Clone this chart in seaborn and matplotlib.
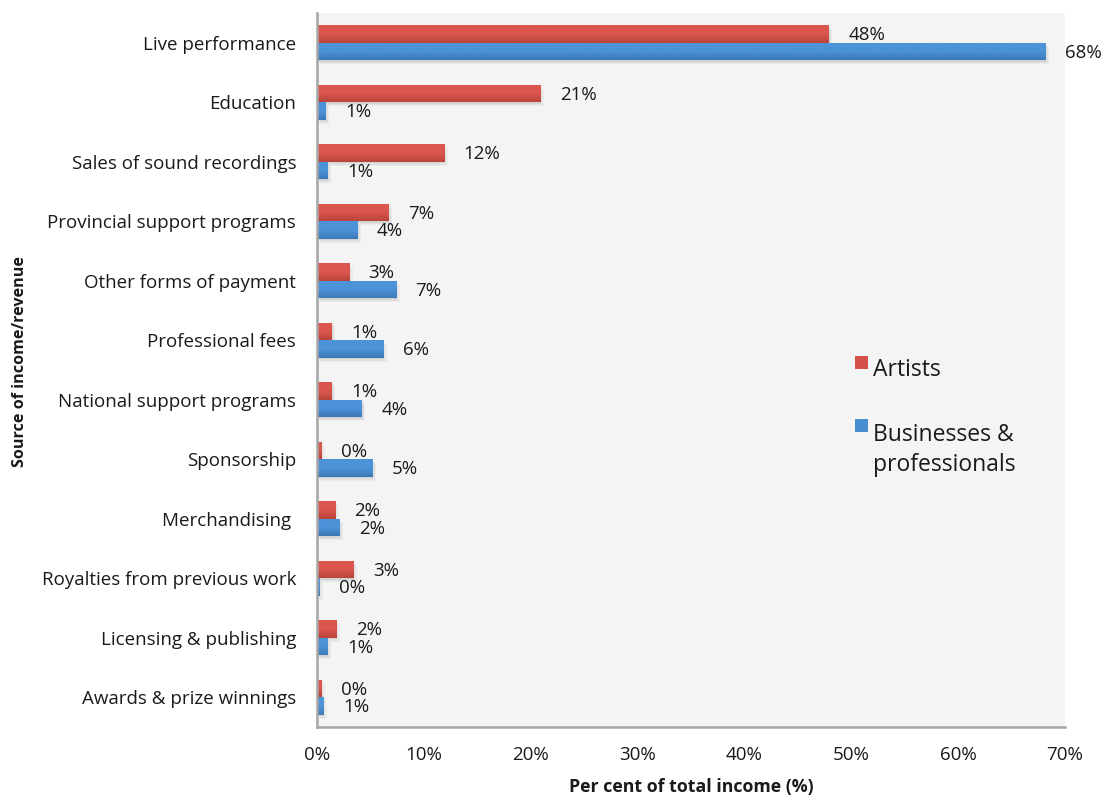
import matplotlib
matplotlib.use("Agg")
import matplotlib.pyplot as plt
import matplotlib.patheffects as pe
from matplotlib.colors import LinearSegmentedColormap
from matplotlib.patches import Rectangle
from matplotlib.ticker import FixedLocator, PercentFormatter
import numpy as np
import pandas as pd
import seaborn as sns

# Share of total income by source (%)
categories = [
    "Live performance",
    "Education",
    "Sales of sound recordings",
    "Provincial support programs",
    "Other forms of payment",
    "Professional fees",
    "National support programs",
    "Sponsorship",
    "Merchandising ",
    "Royalties from previous work",
    "Licensing & publishing",
    "Awards & prize winnings",
]
artists = [47.9, 20.9, 11.9, 6.7, 3.0, 1.4, 1.4, 0.4, 1.7, 3.4, 1.8, 0.4]
businesses = [68.2, 0.8, 1.0, 3.8, 7.4, 6.2, 4.2, 5.2, 2.1, 0.2, 1.0, 0.6]
series_names = ["Artists", "Businesses & professionals"]
legend_labels = ["Artists", "Businesses &\nprofessionals"]
x_ticks = [0, 10, 20, 30, 40, 50, 60, 70]

RED = "#D4504A"
BLUE = "#4A8ED2"
GRADIENTS = {
    RED: ("#DB574E", "#B9433B"),
    BLUE: ("#4C93D8", "#3D78B6"),
}
AXIS_GREY = "#A6A6A6"
TEXT = "#1A1A1A"

df = pd.DataFrame({
    "Source": categories * 2,
    "Series": [series_names[0]] * len(categories) + [series_names[1]] * len(categories),
    "Percent": artists + businesses,
})

sns.set_style("white")
plt.rcParams["font.family"] = ["Open Sans", "DejaVu Sans"]

fig = plt.figure(figsize=(11.04, 7.98), dpi=100)
ax = fig.add_axes([317 / 1104, 1 - 727 / 798, (1065 - 317) / 1104, (727 - 13) / 798])
ax.set_facecolor("#F4F4F4")

sns.barplot(
    data=df, y="Source", x="Percent", hue="Series", order=categories,
    hue_order=series_names, palette=[RED, BLUE], orient="h",
    width=0.59, gap=0, saturation=1, legend=False, ax=ax,
)

# soft drop shadow built from a few faint offset copies
shadow = [
    pe.SimplePatchShadow(offset=(0.5, -1.0), shadow_rgbFace="#808080", alpha=0.12),
    pe.SimplePatchShadow(offset=(1.5, -2.0), shadow_rgbFace="#808080", alpha=0.10),
    pe.SimplePatchShadow(offset=(2.5, -3.0), shadow_rgbFace="#808080", alpha=0.07),
    pe.Normal(),
]
ramp = np.linspace(0, 1, 64).reshape(-1, 1)
for container, color in zip(ax.containers, [RED, BLUE]):
    cmap = LinearSegmentedColormap.from_list("bar", [GRADIENTS[color][0], GRADIENTS[color][0],
                                                     GRADIENTS[color][1]])
    for bar, val in zip(container, container.datavalues):
        bar.set_edgecolor("none")
        bar.set_path_effects(shadow)
        x0, y0, w, h = bar.get_x(), bar.get_y(), bar.get_width(), bar.get_height()
        if w > 0:
            img = ax.imshow(ramp, cmap=cmap, extent=(x0, x0 + w, y0 + h, y0), origin="upper",
                            aspect="auto", interpolation="bilinear", zorder=bar.get_zorder() + 0.1)
            img.set_clip_path(bar)
        ax.annotate(f"{val:.0f}%", xy=(w, y0 + h / 2), xytext=(14, -1),
                    textcoords="offset points", ha="left", va="center",
                    fontsize=13.5, color=TEXT, zorder=5)

ax.set_aspect("auto")
ax.set_xlim(0, 70)
ax.set_ylim(len(categories) - 0.5, -0.5)
ax.xaxis.set_major_locator(FixedLocator(x_ticks))
ax.xaxis.set_major_formatter(PercentFormatter(decimals=0))

# category separators as outward ticks on the category axis
ax.yaxis.set_minor_locator(FixedLocator(np.arange(-0.5, len(categories), 1.0)))
ax.tick_params(axis="y", which="major", length=0, pad=15, labelsize=13.5, labelcolor=TEXT)
ax.tick_params(axis="y", which="minor", length=7, width=1.5, color=AXIS_GREY, direction="out")
ax.tick_params(axis="x", which="major", length=6, width=1.5, color=AXIS_GREY, direction="out",
               pad=8, labelsize=13.5, labelcolor=TEXT)

for side in ["top", "right"]:
    ax.spines[side].set_visible(False)
for side in ["left", "bottom"]:
    ax.spines[side].set_color(AXIS_GREY)
    ax.spines[side].set_linewidth(1.8)

ax.set_xlabel("")
ax.set_ylabel("")
fig.text((317 + 1065) / 2 / 1104, 1 - 787 / 798, "Per cent of total income (%)",
         ha="center", va="center", fontsize=12.8, fontweight="bold", color=TEXT)
fig.text(20 / 1104, 1 - 362 / 798, "Source of income/revenue", rotation=90,
         ha="center", va="center", fontsize=11.6, fontweight="bold", color=TEXT)

# legend: swatches with wrapped labels (baseline of each label's last line)
swatch_bottom = [0.501, 0.413]
text_baseline = [0.492, 0.359]
for color, label, sb, tb in zip([RED, BLUE], legend_labels, swatch_bottom, text_baseline):
    ax.add_patch(Rectangle((0.719, sb), 0.0174, 0.018, transform=ax.transAxes,
                           facecolor=color, edgecolor="none", clip_on=False, zorder=5))
    ax.text(0.743, tb, label, transform=ax.transAxes, ha="left", va="baseline",
            fontsize=16.5, color=TEXT, linespacing=1.33)

fig.savefig("out.png", dpi=100, facecolor="white")
